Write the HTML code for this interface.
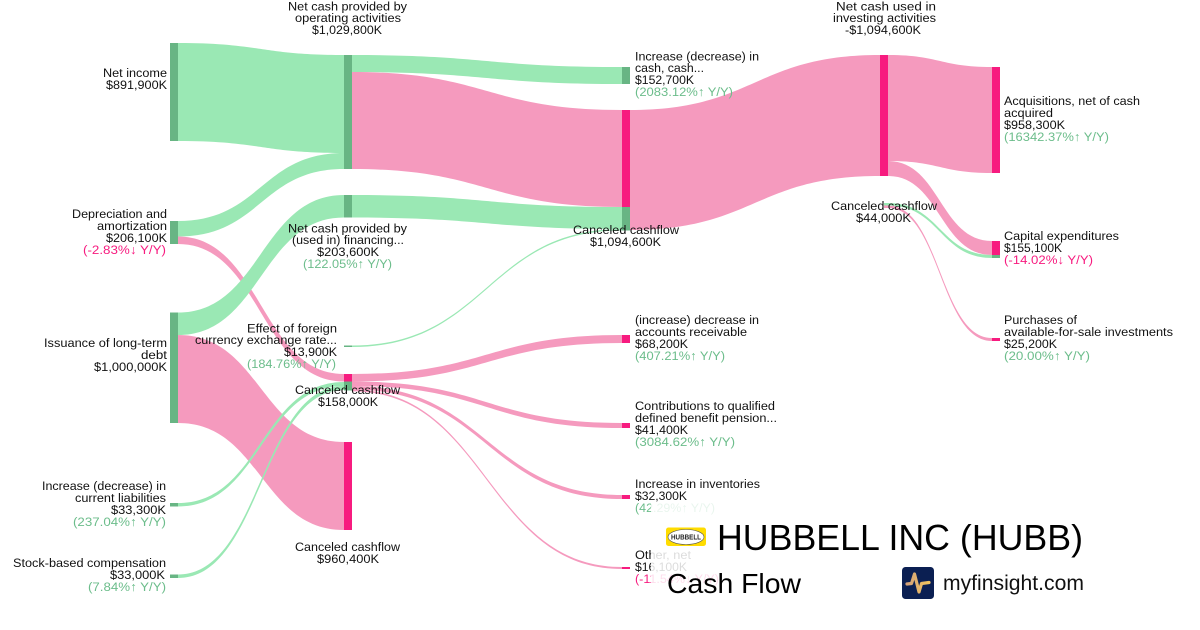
<!DOCTYPE html>
<html><head><meta charset="utf-8"><style>
html,body{margin:0;padding:0;background:#fff;width:1200px;height:630px;overflow:hidden}
svg{display:block}
text{font-family:"Liberation Sans",sans-serif;font-size:12.4px;fill:#111}
.g{fill:#6cbd8b}.p{fill:#f71b7f}
.lg{fill:#9ae8b4}.lp{fill:#f59abe}
.ng{fill:#68b584}.np{fill:#f71b7f}
</style></head><body>
<svg width="1200" height="630" viewBox="0 0 1200 630" xmlns="http://www.w3.org/2000/svg">
<!-- pink links -->
<g class="lp">
<path d="M178 236.5C261 236.5 261 374 344 374L344 381.5C261 381.5 261 244 178 244Z"/>
<path d="M178 335C261 335 261 442 344 442L344 530C261 530 261 423 178 423Z"/>
<path d="M352 72C487 72 487 110 622 110L622 207C487 207 487 169 352 169Z"/>
<path d="M352 374C487 374 487 335 622 335L622 343C487 343 487 381.5 352 381.5Z"/>
<path d="M352 381.5C487 381.5 487 423 622 423L622 428C487 428 487 386 352 386Z"/>
<path d="M352 386C487 386 487 495 622 495L622 499C487 499 487 389.6 352 389.6Z"/>
<path d="M352 389.6C487 389.6 487 567 622 567L622 569C487 569 487 391.4 352 391.4Z"/>
<path d="M630 110C755 110 755 55 880 55L880 176C755 176 755 230 630 230Z"/>
<path d="M888 55C940 55 940 67 992 67L992 173C940 173 940 161 888 161Z"/>
<path d="M888 161C940 161 940 241 992 241L992 255C940 255 940 176 888 176Z"/>
<path d="M888 205.5C940 205.5 940 338 992 338L992 341C940 341 940 208 888 208Z"/>
<rect x="884" y="205.5" width="4" height="2.5"/>
</g>
<!-- green links -->
<g class="lg">
<path d="M178 43C261 43 261 55 344 55L344 153C261 153 261 141 178 141Z"/>
<path d="M178 221C261 221 261 153 344 153L344 169C261 169 261 236.5 178 236.5Z"/>
<path d="M178 312.5C261 312.5 261 195 344 195L344 217.5C261 217.5 261 335 178 335Z"/>
<path d="M178 503C261 503 261 382 344 382L344 386C261 386 261 506.5 178 506.5Z"/>
<path d="M178 574.5C261 574.5 261 386 344 386L344 390C261 390 261 578 178 578Z"/>
<path d="M352 55C487 55 487 67 622 67L622 84C487 84 487 72 352 72Z"/>
<path d="M352 195C487 195 487 207 622 207L622 229C487 229 487 217.5 352 217.5Z"/>
<path d="M352 345.5C487 345.5 487 229 622 229L622 230.5C487 230.5 487 347 352 347Z"/>
<path d="M888 203C940 203 940 255 992 255L992 258C940 258 940 205.5 888 205.5Z"/>
<rect x="884" y="203" width="4" height="2.5"/>
</g>
<!-- nodes -->
<g class="ng">
<rect x="170" y="43" width="8" height="98"/>
<rect x="170" y="221" width="8" height="23"/>
<rect x="170" y="312.5" width="8" height="110.5"/>
<rect x="170" y="503" width="8" height="3.5"/>
<rect x="170" y="574.5" width="8" height="3.5"/>
<rect x="344" y="55" width="8" height="114"/>
<rect x="344" y="195" width="8" height="22.5"/>
<rect x="344" y="345.5" width="8" height="1.5"/>
<rect x="344" y="381.5" width="8" height="9"/>
<rect x="622" y="67" width="8" height="17"/>
<rect x="622" y="207" width="8" height="23.5"/>
<rect x="992" y="255" width="8" height="3"/>
</g>
<g class="np">
<rect x="344" y="374" width="8" height="7.5"/>
<rect x="344" y="442" width="8" height="88"/>
<rect x="622" y="110" width="8" height="97"/>
<rect x="622" y="335" width="8" height="8"/>
<rect x="622" y="423" width="8" height="5"/>
<rect x="622" y="495" width="8" height="4"/>
<rect x="622" y="567" width="8" height="2"/>
<rect x="880" y="55" width="8" height="121"/>
<rect x="992" y="67" width="8" height="106"/>
<rect x="992" y="241" width="8" height="14"/>
<rect x="992" y="338" width="8" height="3"/>
</g>
<!-- column 0 labels -->
<text x="103" y="77" textLength="64" lengthAdjust="spacingAndGlyphs">Net income</text>
<text x="106" y="89" textLength="61" lengthAdjust="spacingAndGlyphs">$891,900K</text>
<text x="72" y="218" textLength="95" lengthAdjust="spacingAndGlyphs">Depreciation and</text>
<text x="97" y="230" textLength="70" lengthAdjust="spacingAndGlyphs">amortization</text>
<text x="106" y="242" textLength="61" lengthAdjust="spacingAndGlyphs">$206,100K</text>
<text class="p" x="83" y="254" textLength="83" lengthAdjust="spacingAndGlyphs">(-2.83%↓ Y/Y)</text>
<text x="44" y="347" textLength="123" lengthAdjust="spacingAndGlyphs">Issuance of long-term</text>
<text x="141" y="359" textLength="26" lengthAdjust="spacingAndGlyphs">debt</text>
<text x="94" y="371" textLength="73" lengthAdjust="spacingAndGlyphs">$1,000,000K</text>
<text x="42" y="490" textLength="124" lengthAdjust="spacingAndGlyphs">Increase (decrease) in</text>
<text x="75" y="502" textLength="91" lengthAdjust="spacingAndGlyphs">current liabilities</text>
<text x="111" y="514" textLength="55" lengthAdjust="spacingAndGlyphs">$33,300K</text>
<text class="g" x="73" y="526" textLength="93" lengthAdjust="spacingAndGlyphs">(237.04%↑ Y/Y)</text>
<text x="13" y="567" textLength="153" lengthAdjust="spacingAndGlyphs">Stock-based compensation</text>
<text x="110" y="579" textLength="55" lengthAdjust="spacingAndGlyphs">$33,000K</text>
<text class="g" x="88" y="591" textLength="78" lengthAdjust="spacingAndGlyphs">(7.84%↑ Y/Y)</text>
<!-- column 1 labels -->
<text x="288" y="10.5" textLength="119" lengthAdjust="spacingAndGlyphs">Net cash provided by</text>
<text x="295" y="22" textLength="106" lengthAdjust="spacingAndGlyphs">operating activities</text>
<text x="312" y="34" textLength="70" lengthAdjust="spacingAndGlyphs">$1,029,800K</text>
<text x="288" y="232.5" textLength="119" lengthAdjust="spacingAndGlyphs">Net cash provided by</text>
<text x="292" y="244" textLength="112" lengthAdjust="spacingAndGlyphs">(used in) financing...</text>
<text x="317" y="256" textLength="62" lengthAdjust="spacingAndGlyphs">$203,600K</text>
<text class="g" x="303" y="268" textLength="89" lengthAdjust="spacingAndGlyphs">(122.05%↑ Y/Y)</text>
<text x="247" y="332.5" textLength="90" lengthAdjust="spacingAndGlyphs">Effect of foreign</text>
<text x="195" y="344" textLength="142" lengthAdjust="spacingAndGlyphs">currency exchange rate...</text>
<text x="284" y="356" textLength="53" lengthAdjust="spacingAndGlyphs">$13,900K</text>
<text class="g" x="247" y="368" textLength="89" lengthAdjust="spacingAndGlyphs">(184.76%↑ Y/Y)</text>
<text x="295" y="394" textLength="105" lengthAdjust="spacingAndGlyphs">Canceled cashflow</text>
<text x="318" y="406" textLength="60" lengthAdjust="spacingAndGlyphs">$158,000K</text>
<text x="295" y="551" textLength="105" lengthAdjust="spacingAndGlyphs">Canceled cashflow</text>
<text x="317" y="563" textLength="62" lengthAdjust="spacingAndGlyphs">$960,400K</text>
<!-- column 2 labels -->
<text x="635" y="60.5" textLength="124" lengthAdjust="spacingAndGlyphs">Increase (decrease) in</text>
<text x="635" y="72" textLength="69" lengthAdjust="spacingAndGlyphs">cash, cash...</text>
<text x="635" y="84" textLength="59" lengthAdjust="spacingAndGlyphs">$152,700K</text>
<text class="g" x="635" y="96" textLength="98" lengthAdjust="spacingAndGlyphs">(2083.12%↑ Y/Y)</text>
<text x="573" y="234" textLength="106" lengthAdjust="spacingAndGlyphs">Canceled cashflow</text>
<text x="590" y="246" textLength="71" lengthAdjust="spacingAndGlyphs">$1,094,600K</text>
<text x="635" y="324" textLength="124" lengthAdjust="spacingAndGlyphs">(increase) decrease in</text>
<text x="635" y="336" textLength="112" lengthAdjust="spacingAndGlyphs">accounts receivable</text>
<text x="635" y="348" textLength="53" lengthAdjust="spacingAndGlyphs">$68,200K</text>
<text class="g" x="635" y="360" textLength="90" lengthAdjust="spacingAndGlyphs">(407.21%↑ Y/Y)</text>
<text x="635" y="410" textLength="140" lengthAdjust="spacingAndGlyphs">Contributions to qualified</text>
<text x="635" y="422" textLength="142" lengthAdjust="spacingAndGlyphs">defined benefit pension...</text>
<text x="635" y="434" textLength="53" lengthAdjust="spacingAndGlyphs">$41,400K</text>
<text class="g" x="635" y="446" textLength="100" lengthAdjust="spacingAndGlyphs">(3084.62%↑ Y/Y)</text>
<text x="635" y="488" textLength="125" lengthAdjust="spacingAndGlyphs">Increase in inventories</text>
<text x="635" y="500" textLength="52" lengthAdjust="spacingAndGlyphs">$32,300K</text>
<text class="g" x="635" y="512" textLength="80" lengthAdjust="spacingAndGlyphs">(42.29%↑ Y/Y)</text>
<text x="635" y="559" textLength="56" lengthAdjust="spacingAndGlyphs">Other, net</text>
<text x="635" y="571" textLength="52" lengthAdjust="spacingAndGlyphs">$16,100K</text>
<text class="p" x="635" y="583" textLength="84" lengthAdjust="spacingAndGlyphs">(-11.54%↓ Y/Y)</text>
<!-- column 3 labels -->
<text x="836" y="10.5" textLength="100" lengthAdjust="spacingAndGlyphs">Net cash used in</text>
<text x="833" y="22" textLength="103" lengthAdjust="spacingAndGlyphs">investing activities</text>
<text x="845" y="34" textLength="76" lengthAdjust="spacingAndGlyphs">-$1,094,600K</text>
<text x="831" y="210" textLength="106" lengthAdjust="spacingAndGlyphs">Canceled cashflow</text>
<text x="856" y="222" textLength="55" lengthAdjust="spacingAndGlyphs">$44,000K</text>
<!-- column 4 labels -->
<text x="1004" y="105" textLength="136" lengthAdjust="spacingAndGlyphs">Acquisitions, net of cash</text>
<text x="1004" y="117" textLength="49" lengthAdjust="spacingAndGlyphs">acquired</text>
<text x="1004" y="129" textLength="61" lengthAdjust="spacingAndGlyphs">$958,300K</text>
<text class="g" x="1004" y="141" textLength="105" lengthAdjust="spacingAndGlyphs">(16342.37%↑ Y/Y)</text>
<text x="1004" y="240" textLength="115" lengthAdjust="spacingAndGlyphs">Capital expenditures</text>
<text x="1004" y="252" textLength="58" lengthAdjust="spacingAndGlyphs">$155,100K</text>
<text class="p" x="1004" y="264" textLength="89" lengthAdjust="spacingAndGlyphs">(-14.02%↓ Y/Y)</text>
<text x="1004" y="324" textLength="73" lengthAdjust="spacingAndGlyphs">Purchases of</text>
<text x="1004" y="336" textLength="169" lengthAdjust="spacingAndGlyphs">available-for-sale investments</text>
<text x="1004" y="348" textLength="53" lengthAdjust="spacingAndGlyphs">$25,200K</text>
<text class="g" x="1004" y="360" textLength="86" lengthAdjust="spacingAndGlyphs">(20.00%↑ Y/Y)</text>
<!-- overlay -->
<rect x="651" y="502" width="450" height="105" fill="#fff" fill-opacity="0.85"/>
<!-- Hubbell logo -->
<rect x="666" y="527.5" width="40" height="18.5" rx="2.5" fill="#ffdc00"/>
<ellipse cx="686" cy="537" rx="18" ry="7.5" fill="#fff" stroke="#555" stroke-width="0.6"/>
<text x="671" y="539.5" textLength="30" lengthAdjust="spacingAndGlyphs" style="font-size:7px;font-weight:bold;fill:#222">HUBBELL</text>
<!-- title -->
<text x="717" y="550" textLength="366" lengthAdjust="spacingAndGlyphs" style="font-size:36px;fill:#000">HUBBELL INC (HUBB)</text>
<text x="667" y="593" textLength="134" lengthAdjust="spacingAndGlyphs" style="font-size:28px;fill:#000">Cash Flow</text>
<!-- myfinsight -->
<rect x="902" y="567" width="32" height="32" rx="3.5" fill="#0b1f52"/>
<defs><linearGradient id="au" x1="0" y1="0" x2="1" y2="0"><stop offset="0" stop-color="#d4a27a"/><stop offset="1" stop-color="#f2c45e"/></linearGradient></defs>
<path d="M907 584L911.5 583.5L914.5 574L919 592L921.5 583.5L929 582.5" fill="none" stroke="url(#au)" stroke-width="3.2" stroke-linecap="round" stroke-linejoin="round"/>
<text x="943" y="590" textLength="141" lengthAdjust="spacingAndGlyphs" style="font-size:21px;fill:#111">myfinsight.com</text>
</svg>
</body></html>
